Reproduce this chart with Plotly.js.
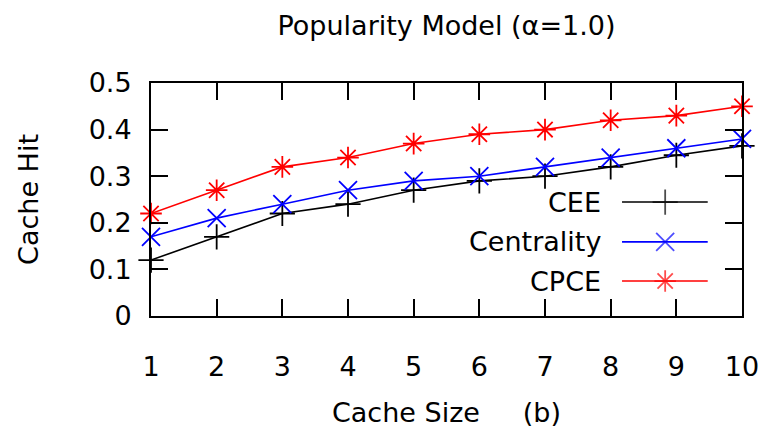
<!DOCTYPE html>
<html>
<head>
<meta charset="utf-8">
<script src="https://cdn.plot.ly/plotly-3.0.1.min.js"></script>
<style>html,body{margin:0;padding:0;background:#fff;}#chart{width:770px;height:436px;}</style>
</head>
<body>
<div id="chart"></div>
<script>
// ---- data ----
const cacheSize = [1, 2, 3, 4, 5, 6, 7, 8, 9, 10];
const cee        = [0.12, 0.17, 0.22, 0.24, 0.27, 0.29, 0.30, 0.32, 0.345, 0.365];
const centrality = [0.17, 0.21, 0.24, 0.27, 0.29, 0.30, 0.32, 0.34, 0.36, 0.38];
const cpce       = [0.22, 0.27, 0.32, 0.34, 0.37, 0.39, 0.40, 0.42, 0.43, 0.45];
const seriesNames = ['CEE', 'Centrality', 'CPCE'];
const yTicks = [0, 0.1, 0.2, 0.3, 0.4, 0.5];
const yTickText = ['0', '0.1', '0.2', '0.3', '0.4', '0.5'];

// ---- styles ----
const FONT = 'DejaVu Sans, Verdana, sans-serif';
const FS = 27;
const styles = [
  {color: '#000000', symbol: 'cross-thin-open', size: 18},
  {color: '#0000ff', symbol: 'x-thin-open', size: 18},
  {color: '#ff0000', symbol: 'asterisk-open', size: 18}
];
const values = [cee, centrality, cpce];

// custom legend layout (paper fractions of plot area)
const legendTextX = 0.765;
const legendLineX = [0.797, 0.870, 0.942];
const legendRowsY = [0.489, 0.318, 0.150];

const traces = [];
values.forEach((v, i) => {
  traces.push({
    x: cacheSize, y: v, name: seriesNames[i], type: 'scatter', mode: 'lines+markers',
    line: {color: styles[i].color, width: 1.6},
    marker: {symbol: styles[i].symbol, size: styles[i].size, color: styles[i].color,
             line: {color: styles[i].color, width: 1.8}},
    showlegend: false, cliponaxis: false
  });
});
// legend keys
seriesNames.forEach((n, i) => {
  const yy = legendRowsY[i];
  traces.push({
    x: legendLineX, y: [yy, yy, yy], xaxis: 'x2', yaxis: 'y2', type: 'scatter', mode: 'lines+markers',
    line: {color: styles[i].color, width: 1.6},
    marker: {symbol: styles[i].symbol, size: [0, styles[i].size, 0], color: styles[i].color,
             line: {color: styles[i].color, width: 1.8}},
    showlegend: false, hoverinfo: 'skip'
  });
});

const annotations = seriesNames.map((n, i) => ({
  text: n, xref: 'paper', yref: 'paper', x: legendTextX, y: legendRowsY[i],
  xanchor: 'right', yanchor: 'middle', showarrow: false,
  font: {family: FONT, size: FS, color: '#000'}
}));

const axisCommon = {
  showgrid: false, zeroline: false, showline: true, linecolor: '#000', linewidth: 2,
  mirror: 'ticks', ticks: 'inside', ticklen: 17, tickwidth: 2, tickcolor: '#000',
  tickfont: {family: FONT, size: FS, color: '#000'}
};

const layout = {
  width: 770, height: 436,
  margin: {l: 151, r: 28, t: 83, b: 120},
  paper_bgcolor: '#fff', plot_bgcolor: '#fff',
  title: {text: 'Popularity Model (\u03b1=1.0)', font: {family: FONT, size: FS, color: '#000'},
          x: 0.5, xref: 'paper', y: 1 - 26/436, yref: 'container', xanchor: 'center', yanchor: 'middle'},
  xaxis: Object.assign({}, axisCommon, {
    range: [1, 10], tickvals: cacheSize, ticklabelstandoff: 26,
    title: {text: 'Cache Size\u00a0\u00a0\u00a0\u00a0\u00a0(b)', font: {family: FONT, size: FS, color: '#000'}, standoff: 22}
  }),
  yaxis: Object.assign({}, axisCommon, {
    range: [0, 0.5], tickvals: yTicks, ticktext: yTickText, ticklabelstandoff: 12,
    title: {text: 'Cache Hit', font: {family: FONT, size: FS, color: '#000'}, standoff: 42}
  }),
  xaxis2: {overlaying: 'x', range: [0, 1], visible: false, fixedrange: true},
  yaxis2: {overlaying: 'y', range: [0, 1], visible: false, fixedrange: true},
  annotations: annotations,
  showlegend: false
};

Plotly.newPlot('chart', traces, layout, {displayModeBar: false, staticPlot: true});
</script>
</body>
</html>
